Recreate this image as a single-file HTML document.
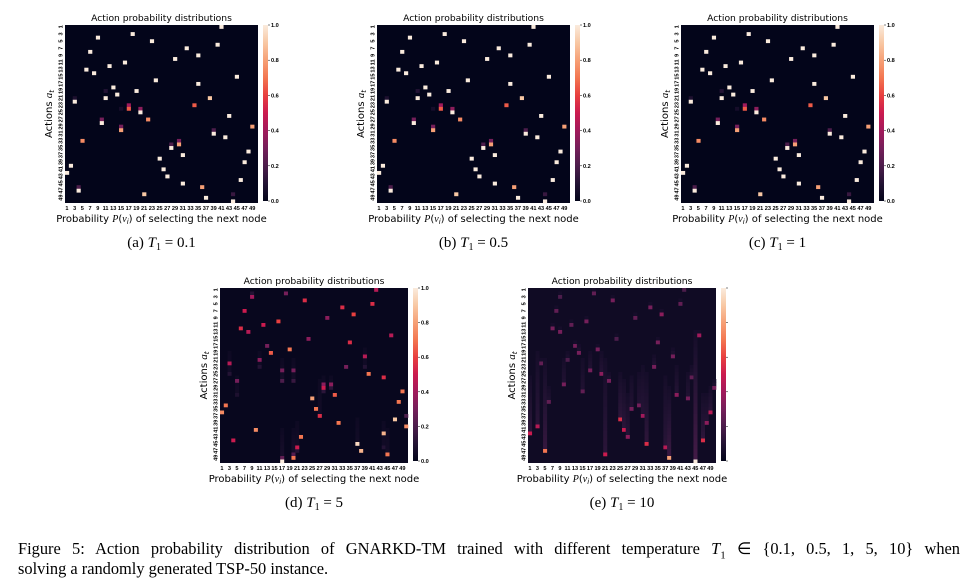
<!DOCTYPE html>
<html><head><meta charset="utf-8"><style>
body{margin:0;background:#fff;width:966px;height:585px;overflow:hidden;font-family:"Liberation Sans",sans-serif}
svg{display:block}
.cap{position:absolute;font-family:"Liberation Serif",serif;color:#000}
</style></head><body>
<svg id="fig" width="966" height="585"></svg>
<div class="cap" style="left:18px;top:539px;width:942px;font-size:16.4px;line-height:20px;text-align:justify;text-align-last:justify;white-space:nowrap">Figure 5: Action probability distribution of GNARKD-TM trained with different temperature <i>T</i><sub style="font-size:11px">1</sub> ∈ {0.1, 0.5, 1, 5, 10} when</div>
<div class="cap" style="left:18px;top:559px;font-size:16.4px;line-height:20px">solving a randomly generated TSP-50 instance.</div>
<script>
// [row, col, value]
const peaksA = [[0,40,1],[2,17,1],[3,8,1],[4,22,1],[5,39,1],[6,31,1],[7,6,1],[8,34,1],[9,28,1],[10,15,1],[11,11,1],[12,5,1],[13,7,1],[14,44,1],[15,23,1],[16,34,1],[17,12,1],[18,18,1],[19,13,1],[18,10,0.1],[20,37,0.9],[20,10,1],[20,2,0.08],[21,2,1],[22,16,0.4],[23,16,0.65],[22,33,0.65],[23,19,0.35],[24,19,1],[23,14,0.06],[25,42,1],[26,21,0.75],[26,9,0.3],[27,9,1],[28,14,0.3],[29,14,0.8],[28,48,0.8],[29,38,0.2],[30,38,1],[31,41,1],[32,4,0.75],[32,29,0.3],[33,29,0.8],[33,27,0.2],[34,27,1],[35,47,1],[36,30,1],[37,24,1],[38,46,1],[39,1,1],[40,25,1],[41,0,1],[42,26,1],[43,45,1],[44,30,1],[45,35,0.8],[45,3,0.2],[46,3,1],[47,20,0.9],[47,43,0.15],[49,43,1],[48,36,1]];
const peaksB = peaksA.map(p=>p.slice());
const peaksC = peaksA.map(p=>p.slice());
const peaksD = [[0,41,0.45],[1,8,0.1],[2,8,0.4],[1,17,0.3],[3,22,0.55],[4,40,0.55],[5,32,0.55],[6,6,0.5],[7,35,0.6],[8,28,0.35],[9,15,0.6],[10,11,0.5],[11,5,0.55],[12,7,0.45],[13,45,0.45],[14,23,0.35],[15,34,0.55],[16,12,0.3],[17,18,0.7],[18,13,0.65],[19,38,0.45],[20,10,0.35],[21,2,0.45],[23,16,0.3],[23,19,0.3],[22,33,0.3],[24,39,0.7],[25,43,0.55],[26,4,0.3],[27,27,0.35],[28,27,0.5],[27,29,0.35],[29,48,0.7],[30,30,0.65],[31,24,0.8],[32,47,0.7],[33,1,0.7],[34,25,0.7],[35,0,0.75],[36,26,0.55],[37,46,0.9],[36,49,0.2],[38,31,0.7],[39,49,0.75],[40,9,0.75],[41,43,0.85],[42,21,0.7],[43,3,0.5],[44,36,0.95],[45,20,0.5],[46,37,0.85],[47,44,0.7],[48,19,0.7],[49,16,1.0]];
// [col, rowStart, rowEnd, value]
const streaksD = [[16,20,26,0.2],[16,40,48,0.25],[19,20,26,0.15],[19,40,47,0.22],[2,18,24,0.1],[10,18,22,0.1],[26,26,36,0.1],[27,25,29,0.12],[29,25,28,0.12],[36,37,44,0.12],[43,38,45,0.1],[44,40,47,0.12],[38,17,22,0.1],[4,25,30,0.08],[20,38,46,0.1]];
const streaksE = [[0,25,41,0.5],[2,18,39,0.45],[3,20,21,0.25],[4,20,46,0.7],[5,28,32,0.25],[6,10,11,0.3],[7,5,6,0.25],[8,11,12,0.3],[8,1,2,0.2],[9,20,27,0.3],[10,18,20,0.2],[11,9,10,0.25],[12,15,16,0.3],[13,16,18,0.3],[14,20,29,0.25],[15,8,9,0.3],[16,18,23,0.3],[17,0,1,0.25],[18,16,17,0.3],[19,18,24,0.35],[20,20,47,0.5],[21,24,26,0.3],[22,2,3,0.3],[23,13,14,0.2],[24,24,37,0.55],[25,26,40,0.5],[26,30,42,0.35],[27,25,34,0.3],[28,7,8,0.25],[29,24,33,0.3],[30,22,36,0.4],[31,24,44,0.55],[32,4,5,0.3],[33,19,22,0.3],[34,14,15,0.3],[35,6,7,0.35],[36,25,45,0.45],[37,28,48,0.8],[38,17,19,0.3],[39,22,30,0.35],[40,3,4,0.25],[41,0,0,0.2],[42,24,31,0.3],[43,22,25,0.25],[44,12,49,1.0],[45,12,13,0.4],[46,30,43,0.55],[47,30,38,0.35],[48,28,35,0.45],[49,26,28,0.3]];
const cbTicks = ["0.0","0.2","0.4","0.6","0.8","1.0"];
const xTicks = []; for(let i=1;i<=49;i+=2) xTicks.push(String(i));
const captions = ["(a) T1 = 0.1","(b) T1 = 0.5","(c) T1 = 1","(d) T1 = 5","(e) T1 = 10"];

const NS="http://www.w3.org/2000/svg";
const svg=document.getElementById('fig');
const stops=[[0,[3,5,26]],[0.1,[35,19,52]],[0.2,[76,29,75]],[0.3,[117,31,90]],[0.4,[161,26,91]],[0.5,[203,27,79]],[0.6,[232,63,63]],[0.7,[243,118,81]],[0.8,[246,160,118]],[0.9,[248,200,164]],[1,[250,235,221]]];
function cmap(v){v=Math.max(0,Math.min(1,v));for(let i=1;i<stops.length;i++){if(v<=stops[i][0]){const a=stops[i-1],b=stops[i],t=(v-a[0])/(b[0]-a[0]);const c=a[1].map((x,k)=>Math.round(x+(b[1][k]-x)*t));return `rgb(${c})`;}}return 'rgb(250,235,221)';}
function el(tag,attrs,parent){const e=document.createElementNS(NS,tag);for(const k in attrs)e.setAttribute(k,attrs[k]);(parent||svg).appendChild(e);return e;}
function txt(str,attrs,parent){const t=el('text',attrs,parent);t.textContent=str;return t;}

function panel(id,ox,oy,w,h,base,peaks,streaks,showCb,capIdx){
  const g=el('g',{transform:`translate(${ox},${oy})`});
  
  
  const x0=65,y0=25,cw=w/50,ch=h/50;
  const xs=c=>x0+c*cw, ys=r=>y0+r*ch;
  const bg=el('rect',{x:x0,y:y0,width:w,height:h,fill:cmap(base)},g);
  
  
  (streaks||[]).forEach(s=>{
    const [c,r0,r1,v]=s;
    for(let r=r0;r<=r1;r++){
      const t=r1===r0?1:(r-r0)/(r1-r0);
      const val=r===r1?v:base+0.02+(v*0.12)*t;
      const rc=el('rect',{x:xs(c),y:ys(r),width:cw+0.3,height:ch+0.3,fill:cmap(val)},g);
      
      
    }
  });
  peaks.forEach(p=>{
    const rc=el('rect',{x:xs(p[1]),y:ys(p[0]),width:cw+0.3,height:ch+0.3,fill:cmap(p[2])},g);
    
    
  });
  const t=txt('Action probability distributions',{x:x0+w/2,y:21,'font-size':'9.2','text-anchor':'middle','font-family':'DejaVu Sans, sans-serif'},g);
  
  
  xTicks.forEach((l,i)=>{
    const c=i*2;
    const tt=txt(l,{x:xs(c)+cw/2,y:y0+h+7,'font-size':'5.6','text-anchor':'middle','font-weight':'bold'},g);
    
    
  });
  xTicks.forEach((l,i)=>{
    const r=i*2, cy=ys(r)+ch/2;
    const tt=txt(l,{x:x0-4,y:cy,'font-size':'5.6','text-anchor':'middle','font-weight':'bold',transform:`rotate(-90 ${x0-4} ${cy})`,'dominant-baseline':'middle'},g);
    
    
  });
  const xl=txt('',{x:x0+w/2,y:y0+h+19,'font-size':'10','text-anchor':'middle','font-family':'DejaVu Sans, sans-serif'},g);
  xl.innerHTML='Probability <tspan font-style="italic" font-family="Liberation Serif">P</tspan>(<tspan font-style="italic" font-family="Liberation Serif">v</tspan><tspan font-size="7" dy="2" font-style="italic">i</tspan><tspan dy="-2">) of selecting the next node</tspan>';
  
  
  const yl=txt('',{x:x0-13,y:y0+h/2,'font-size':'10','text-anchor':'middle','font-family':'DejaVu Sans, sans-serif',transform:`rotate(-90 ${x0-13} ${y0+h/2})`},g);
  yl.innerHTML='Actions <tspan font-style="italic" font-family="Liberation Serif" font-size="11">a</tspan><tspan font-size="7" dy="2" font-style="italic">t</tspan>';
  
  
  const cbx=x0+w+5, cbw=5;
  const defs=el('defs',{},g);
  const lg=el('linearGradient',{id:'cb'+id,x1:0,y1:1,x2:0,y2:0},defs);
  for(let i=0;i<=10;i++) el('stop',{offset:i/10,'stop-color':cmap(i/10)},lg);
  const cb=el('rect',{x:cbx,y:y0,width:cbw,height:h-2,fill:`url(#cb${id})`},g);
  
  
  cbTicks.forEach((l,i)=>{
    const yy=y0+(h-2)*(1-i/5);
    el('line',{x1:cbx+cbw,x2:cbx+cbw+2,y1:yy,y2:yy,stroke:'#000','stroke-width':0.5},g);
    if(showCb){
      const tt=txt(l,{x:cbx+cbw+3,y:yy+2,'font-size':'5.6','font-weight':'bold'},g);
      
      
    }
  });
  const cap=txt('',{x:x0+w/2,y:y0+h+44,'font-size':'15','text-anchor':'middle','font-family':'Liberation Serif, serif'},g);
  const parts=captions[capIdx].split(' T1 = ');
  cap.innerHTML=parts[0]+' <tspan font-style="italic">T</tspan><tspan font-size="10" dy="3">1</tspan><tspan dy="-3"> = '+parts[1]+'</tspan>';
  
  
}
panel('a',0,0,193,178,0,peaksA,[],true,0);
panel('b',312,0,193,178,0,peaksB,[],true,1);
panel('c',616,0,193,178,0,peaksC,[],true,2);
panel('d',155,263,188,175,0.015,peaksD,streaksD,true,3);
panel('e',463,263,188,175,0.04,[],streaksE,false,4);
</script>
</body></html>
